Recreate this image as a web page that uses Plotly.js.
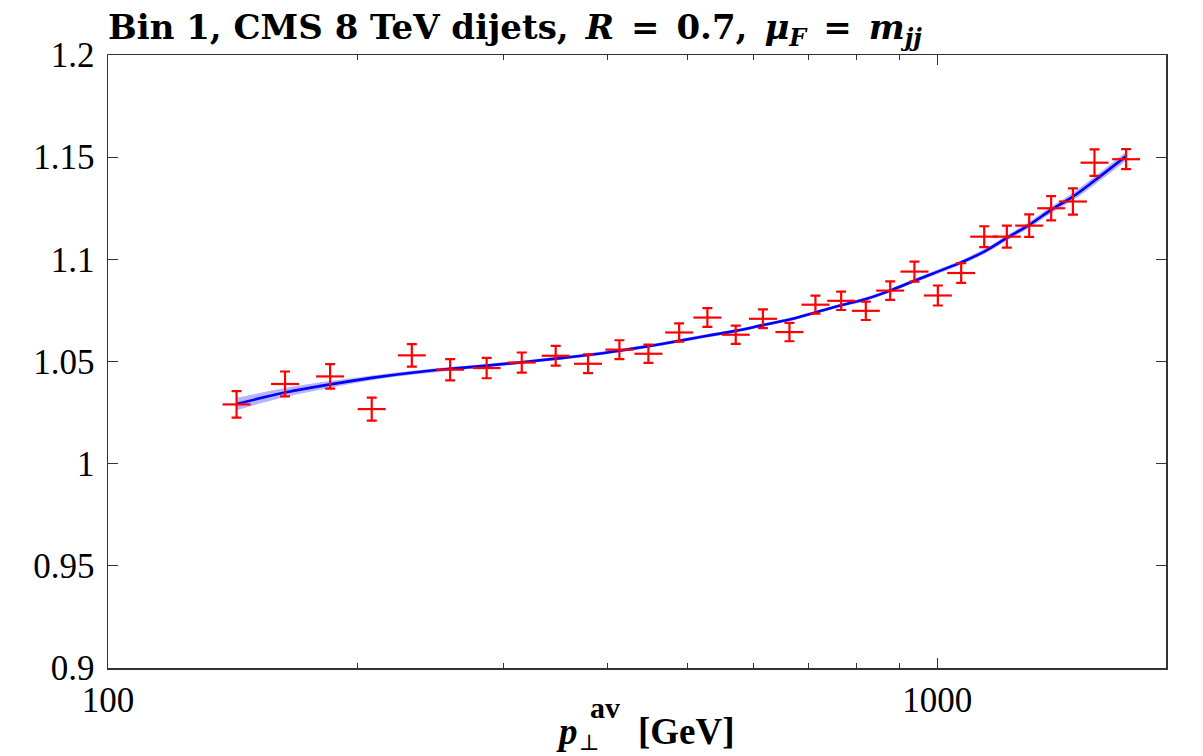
<!DOCTYPE html>
<html>
<head>
<meta charset="utf-8">
<script src="https://cdn.plot.ly/plotly-3.0.1.min.js"></script>
<style>html,body{margin:0;padding:0;background:#fff;}#chart{width:1203px;height:756px;}</style>
</head>
<body>
<div id="chart"></div>
<script>
// Data points (p_T^av in GeV, ratio, symmetric error)
const pT = [142.9,163.5,185.3,208.0,232.5,258.6,286.2,315.5,346.7,379.3,413.8,448.5,488.5,528.3,571.6,616.4,663.5,713.2,766.0,820.3,877.7,938.9,1001.9,1069,1139.6,1213.5,1291.2,1372.5,1457.9,1548,1690];
const ratio = [1.029,1.039,1.0427,1.0267,1.053,1.046,1.0468,1.0495,1.0528,1.0489,1.0558,1.0538,1.0642,1.0715,1.0631,1.0709,1.0644,1.0778,1.0797,1.0748,1.0847,1.094,1.0823,1.0933,1.1111,1.1111,1.1165,1.125,1.1283,1.1473,1.149];
const ratioErr = [0.0065,0.0061,0.006,0.0056,0.0055,0.0052,0.005,0.0049,0.0048,0.0046,0.0046,0.0045,0.0045,0.0046,0.0045,0.0046,0.0045,0.0044,0.0045,0.0045,0.0045,0.0049,0.0049,0.0048,0.0051,0.0054,0.0055,0.0059,0.0064,0.0065,0.0049];
// Theory curve and its uncertainty band (half width), sampled at the same p_T
const curve = [1.0292,1.0348,1.0388,1.0420,1.0445,1.0464,1.0480,1.0496,1.0514,1.0532,1.0553,1.0575,1.0601,1.0626,1.0650,1.0678,1.0705,1.0740,1.0775,1.0806,1.0847,1.0895,1.094,1.0985,1.1038,1.1105,1.1169,1.1242,1.1307,1.1385,1.1505];
const bandHalf = [0.003,0.0022,0.0016,0.0012,0.001,0.0009,0.0008,0.0008,0.0008,0.0008,0.0008,0.0008,0.0008,0.0008,0.0008,0.0008,0.0008,0.0008,0.0008,0.0009,0.0009,0.001,0.001,0.0011,0.0012,0.0013,0.0014,0.0016,0.0018,0.002,0.0022];
// Axis ticks
const yTicks = [0.9,0.95,1,1.05,1.1,1.15,1.2];
const yTickText = ["0.9","0.95","1","1.05","1.1","1.15","1.2"];
const xTicks = [100,1000];
const xTickText = ["100","1000"];
const xMinorTicks = [200,300,400,500,600,700,800,900];

const bandUp = curve.map((c,i)=>c+bandHalf[i]);
const bandLo = curve.map((c,i)=>c-bandHalf[i]);

const serif = '"Liberation Serif", "DejaVu Serif", serif';
const wideSerif = '"DejaVu Serif", "Liberation Serif", serif';
const sp = '\u2002';

const traces = [
  {x: pT, y: bandLo, mode:'lines', line:{width:0, shape:'spline', color:'rgba(0,0,0,0)'}, hoverinfo:'skip', showlegend:false},
  {x: pT, y: bandUp, mode:'lines', line:{width:0, shape:'spline', color:'rgba(0,0,0,0)'}, fill:'tonexty', fillcolor:'rgba(120,120,240,0.55)', hoverinfo:'skip', showlegend:false},
  {x: pT, y: curve, mode:'lines', line:{width:2.6, shape:'spline', color:'#0000ff'}, showlegend:false},
  {x: pT, y: ratio, mode:'markers', showlegend:false,
   marker:{symbol:'line-ew-open', size:20, color:'#ff0000', line:{width:2.2, color:'#ff0000'}},
   error_y:{type:'data', array: ratioErr, visible:true, color:'#ff0000', thickness:2.2, width:5}}
];

const ann = (text, x, y, size, xanchor) => ({text:text, xref:'paper', yref:'paper', x:x, y:y,
  xanchor:xanchor||'center', yanchor:'middle', showarrow:false, font:{family:serif, size:size, color:'#000'}});

const layout = {
  width:1203, height:756,
  margin:{l:108, r:37, t:55, b:88},
  paper_bgcolor:'#fff', plot_bgcolor:'#fff',
  showlegend:false,
  title:{text:'<b>Bin 1, CMS 8 TeV dijets,'+sp+'<i>R</i>'+sp+'='+sp+'0.7,'+sp+'<i>μ<sub>F</sub></i>'+sp+'='+sp+'<i>m<sub>jj</sub></i></b>',
         x:0, xanchor:'left', xref:'paper', y:0.98, yanchor:'top', yref:'container',
         font:{family:wideSerif, size:34, color:'#000'}},
  xaxis:{type:'log', range:[2, Math.log10(1888)], tickmode:'array', tickvals:xTicks, ticktext:xTickText,
         ticks:'inside', ticklen:10, tickwidth:1, tickcolor:'#333', mirror:'ticks', showline:true, linecolor:'#333', linewidth:1.5,
         showgrid:false, zeroline:false,
         minor:{tickmode:'array', tickvals:xMinorTicks, ticks:'inside', ticklen:5, tickwidth:1, tickcolor:'#333', showgrid:false},
         tickfont:{family:serif, size:35, color:'#000'}},
  yaxis:{range:[0.9,1.2], tickmode:'array', tickvals:yTicks, ticktext:yTickText,
         ticks:'inside', ticklen:10, tickwidth:1, tickcolor:'#333', mirror:'ticks', showline:true, linecolor:'#333', linewidth:1.5,
         showgrid:false, zeroline:false, ticklabelstandoff:5,
         tickfont:{family:serif, size:35, color:'#000'}},
  annotations:[
    ann('<b><i>p</i></b>', 0.4338, -0.104, 37),
    ann('<b>av</b>', 0.47, -0.064, 30),
    ann('⊥', 0.455, -0.121, 22),
    ann('<b>[GeV]</b>', 0.547, -0.104, 37)
  ]
};

Plotly.newPlot('chart', traces, layout, {displayModeBar:false, staticPlot:true});
</script>
</body>
</html>
